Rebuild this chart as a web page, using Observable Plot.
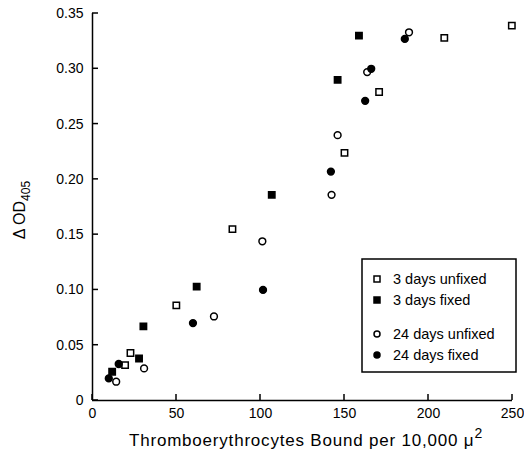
<!DOCTYPE html>
<html><head><meta charset="utf-8">
<script src="https://cdn.jsdelivr.net/npm/d3@7"></script>
<script src="https://cdn.jsdelivr.net/npm/@observablehq/plot@0.6"></script>
<style>
body{margin:0;background:#fff}
#chart svg{font-family:"Liberation Sans",Arial,Helvetica,sans-serif}
</style>
</head><body><div id="chart"></div>
<script>
// Series names
const seriesNames = ["3 days unfixed", "3 days fixed", "24 days unfixed", "24 days fixed"];
// 3 days unfixed (open squares)
const unfixed3X = [19.4, 22.6, 49.9, 83.3, 150.0, 170.6, 209.4, 249.6];
const unfixed3Y = [0.032, 0.043, 0.086, 0.155, 0.224, 0.279, 0.328, 0.339];
// 3 days fixed (filled squares)
const fixed3X = [11.7, 27.7, 30.3, 62.0, 106.7, 145.9, 158.6];
const fixed3Y = [0.026, 0.038, 0.067, 0.103, 0.186, 0.290, 0.330];
// 24 days unfixed (open circles)
const unfixed24X = [14.1, 30.7, 72.3, 101.1, 142.3, 145.9, 163.5, 188.4];
const unfixed24Y = [0.017, 0.029, 0.076, 0.144, 0.186, 0.240, 0.297, 0.333];
// 24 days fixed (filled circles)
const fixed24X = [9.7, 15.6, 59.8, 101.5, 141.9, 162.3, 165.9, 185.9];
const fixed24Y = [0.020, 0.033, 0.070, 0.100, 0.207, 0.271, 0.300, 0.327];
// Ticks
const xTicks = [0, 50, 100, 150, 200, 250];
const yTicks = [0, 0.05, 0.10, 0.15, 0.20, 0.25, 0.30, 0.35];

const styles = [
  {symbol: "square", fill: "white"},
  {symbol: "square", fill: "black"},
  {symbol: "circle", fill: "white"},
  {symbol: "circle", fill: "black"}
];
const xs = [unfixed3X, fixed3X, unfixed24X, fixed24X];
const ys = [unfixed3Y, fixed3Y, unfixed24Y, fixed24Y];
const data = [];
xs.forEach((arr, s) => arr.forEach((x, i) => data.push({series: seriesNames[s], s, x, y: ys[s][i]})));

const W = 524, H = 457;
const plot = Plot.plot({
  width: W, height: H,
  marginLeft: 92, marginRight: 12, marginTop: 13, marginBottom: 57,
  style: {background: "white", fontSize: "14px", fontFamily: "'Liberation Sans', Arial, sans-serif"},
  x: {domain: [0, 250]},
  y: {domain: [0, 0.35]},
  marks: [
    Plot.ruleY([0], {x1: 0, x2: 250, stroke: "black", strokeWidth: 1.5}),
    Plot.ruleX([0], {y1: 0, y2: 0.35, stroke: "black", strokeWidth: 1.5}),
    Plot.axisX({ticks: xTicks, tickSize: 0, tickPadding: 8, label: null, fontSize: 14, fill: "black"}),
    Plot.axisY({ticks: yTicks, tickSize: 0, tickPadding: 9, label: null, fontSize: 14, fill: "black",
      tickFormat: d => d === 0 ? "0" : d.toFixed(2)}),
    ...styles.map((st, s) => Plot.dot(data.filter(d => d.s === s), {
      x: "x", y: "y", symbol: st.symbol, r: st.symbol === "square" ? 3.6 : 3.4,
      fill: st.fill, stroke: "black", strokeWidth: 1.5
    }))
  ]
});
document.getElementById("chart").appendChild(plot);

const svg = d3.select(plot);
const sx = plot.scale("x"), sy = plot.scale("y");
const x0 = sx.apply(0), y0 = sy.apply(0);
// Inward tick marks
const tk = svg.append("g").attr("stroke", "black").attr("stroke-width", 1.5);
xTicks.forEach(t => tk.append("line").attr("x1", sx.apply(t)).attr("x2", sx.apply(t)).attr("y1", y0).attr("y2", y0 - 6));
yTicks.forEach(t => tk.append("line").attr("y1", sy.apply(t)).attr("y2", sy.apply(t)).attr("x1", x0).attr("x2", x0 + 6));

// X axis title
const xt = svg.append("text").attr("x", 306).attr("y", 446).attr("text-anchor", "middle")
  .attr("font-size", 17).attr("letter-spacing", "0.8px").attr("fill", "black");
xt.append("tspan").text("Thromboerythrocytes Bound per 10,000 \u03bc");
xt.append("tspan").attr("dy", -8).attr("font-size", 14).text("2");
// Y axis title
const yt = svg.append("text").attr("transform", "translate(25,210) rotate(-90)").attr("text-anchor", "middle")
  .attr("font-size", 16).attr("fill", "black");
yt.append("tspan").text("\u0394 OD");
yt.append("tspan").attr("dy", 5).attr("font-size", 12).text("405");

// Legend
const lg = svg.append("g");
lg.append("rect").attr("x", 362).attr("y", 259).attr("width", 154).attr("height", 113)
  .attr("fill", "white").attr("stroke", "black").attr("stroke-width", 1.5);
const ly = [279, 300, 334, 355];
seriesNames.forEach((name, s) => {
  const st = styles[s];
  if (st.symbol === "square") {
    lg.append("rect").attr("x", 374).attr("y", ly[s] - 3).attr("width", 6).attr("height", 6)
      .attr("fill", st.fill).attr("stroke", "black").attr("stroke-width", 1.5);
  } else {
    lg.append("circle").attr("cx", 377).attr("cy", ly[s]).attr("r", 3)
      .attr("fill", st.fill).attr("stroke", "black").attr("stroke-width", 1.5);
  }
  lg.append("text").attr("x", 393).attr("y", ly[s]).attr("dy", "0.35em").attr("text-anchor", "start")
    .attr("font-size", 14.5).attr("fill", "black").text(name);
});
</script>
</body></html>
